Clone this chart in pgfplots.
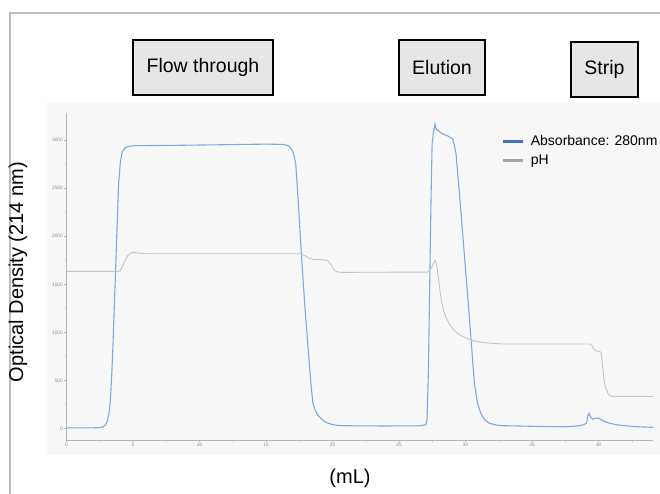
\documentclass[border=0pt]{standalone}
\usepackage{pgfplots}
\pgfplotsset{compat=1.18}
\usepackage{fontspec}
\setmainfont{Liberation Sans}
\definecolor{absblue}{HTML}{7FA8E0}
\definecolor{legblue}{HTML}{4472C4}
\definecolor{phgray}{HTML}{C4C4C4}
\definecolor{leggray}{HTML}{A6A6A6}
\definecolor{plotbg}{HTML}{F7F7F7}
\definecolor{boxfill}{HTML}{E6E6E6}
\definecolor{framegray}{HTML}{BDBDBD}
\definecolor{ticktext}{HTML}{8A8A8A}
\definecolor{axisgray}{HTML}{B5B5B5}

\begin{document}
\begin{tikzpicture}[x=1pt,y=1pt]
\useasboundingbox (0,0) rectangle (660,-493);
\clip (0,0) rectangle (660,-493);
\fill[white] (0,0) rectangle (660,-493);
% outer frame, cut at the right and bottom
\draw[framegray, line width=1.5pt] (10,-500) -- (10,-13) -- (670,-13);
% plot background
\fill[plotbg] (46,-103) rectangle (670,-455);

% phase boxes
\tikzset{phase/.style={draw=black, line width=1.3pt, fill=boxfill, inner sep=0pt,
  minimum height=55pt, font=\fontsize{19.5}{22}\selectfont}}
\node[phase, minimum width=140pt] at (203,-67.5) {Flow through};
\node[phase, minimum width=86pt] at (442,-67.5) {Elution};
\node[phase, minimum width=67pt] at (604.5,-69.5) {Strip};

% outer labels
\node[rotate=90, font=\fontsize{20}{24}\selectfont] at (18,-272) {Optical Density (214 nm)};
\node[font=\fontsize{20}{24}\selectfont] at (350,-478) {(mL)};

\begin{axis}[
  at={(50,-457.3)}, anchor=south west,
  scale only axis, width=586.7pt, height=326.8pt,
  xmin=0, xmax=44.1, ymin=-117, ymax=3280,
  axis lines=left,
  axis line style={-, draw=axisgray, line width=0.5pt},
  xtick={0,5,...,40}, ytick={0,500,...,3000},
  minor y tick num=1, minor x tick num=4,
  extra x ticks={2.5,7.5,12.5,17.5,22.5,27.5,32.5,37.5,42.5},
  extra x tick labels={},
  tick align=outside,
  major tick length=2.5pt, minor tick length=1.2pt,
  tick style={draw=axisgray, line width=0.4pt},
  tick label style={font=\fontsize{4.8}{5}\selectfont, text=ticktext},
  /pgf/number format/assume math mode=true,
  /pgf/number format/1000 sep={},
  xticklabel style={inner sep=1pt},
  yticklabel style={inner sep=1pt},
  legend style={at={(0.742,0.937)}, anchor=north west, draw=none, fill=none,
    inner sep=0pt, font=\fontsize{14}{16}\selectfont,
    nodes={inner sep=1pt, text height=10.5pt, text depth=3pt},
    row sep=3.5pt, column sep=5pt},
  legend cell align=left,
  legend image code/.code={\draw[#1] (0pt,0pt) -- (20pt,0pt);},
]
\addplot[absblue, line width=1.1pt, forget plot] coordinates {
(0,8) (1,8) (2,9) (2.4,10) (2.7,18) (2.9,35) (3.05,70) (3.2,160) (3.3,300)
(3.4,560) (3.5,900) (3.65,1500) (3.8,2100) (3.92,2550) (4.05,2780) (4.2,2880)
(4.4,2920) (4.7,2935) (5.2,2942) (8,2945) (12,2952) (15,2958) (16.3,2955)
(16.7,2940) (16.95,2900) (17.1,2840) (17.23,2755) (17.4,2400) (17.65,1820)
(17.9,1300) (18.2,760) (18.4,420) (18.53,260) (18.7,190) (18.9,140) (19.2,95)
(19.5,65) (20,42) (20.5,32) (21.5,30) (24,28) (26.5,30) (27,40) (27.1,90)
(27.2,600) (27.3,1500) (27.4,2400) (27.48,2960) (27.58,3080) (27.7,3167)
(27.78,3115) (28.2,3070) (28.7,3040) (29.03,3011) (29.15,2950) (29.28,2855)
(29.5,2500) (29.78,2024) (30.03,1590) (30.28,1157) (30.5,760) (30.66,465)
(30.9,260) (31.16,153) (31.45,90) (31.78,56) (32.3,38) (32.8,31) (34,28)
(36,22) (37.5,20) (38.1,24) (38.8,38) (39.08,55) (39.18,135) (39.28,160)
(39.4,120) (39.53,100) (39.75,108) (39.98,111) (40.2,92) (40.4,76) (40.8,58)
(41.28,42) (42,30) (42.78,21) (44.1,14)
};
\addplot[phgray, line width=0.9pt, forget plot] coordinates {
(0,1635) (3.9,1635) (4.05,1645) (4.3,1720) (4.6,1800) (4.9,1830) (5.2,1830)
(5.6,1822) (6,1818) (17.65,1818) (17.9,1800) (18.2,1775) (18.53,1760)
(19.4,1755) (19.65,1745) (19.9,1700) (20.15,1645) (20.4,1628) (20.7,1625)
(27.1,1628) (27.3,1640) (27.5,1690) (27.65,1740) (27.73,1746) (27.85,1680)
(27.98,1538) (28.1,1400) (28.28,1261) (28.5,1160) (28.78,1088) (29.2,1010)
(29.66,967) (30.2,930) (30.78,908) (31.5,893) (32.78,880) (39.35,880)
(39.5,860) (39.65,825) (39.78,811) (40.1,802) (40.2,780) (40.3,640)
(40.41,499) (40.55,410) (40.73,360) (40.9,340) (41.03,336) (44.1,336)
};
\addlegendimage{legblue, line width=2.8pt}
\addlegendentry{Absorbance: 280nm}
\addlegendimage{leggray, line width=2.8pt}
\addlegendentry{pH}
\node[font=\fontsize{4}{5}\selectfont, text=ticktext] at (rel axis cs:-0.012,1.018) {mAU};
\node[font=\fontsize{4}{5}\selectfont, text=ticktext, anchor=west, inner sep=0.5pt] at (rel axis cs:0.997,-0.01) {mL};
\end{axis}
\end{tikzpicture}
\end{document}
